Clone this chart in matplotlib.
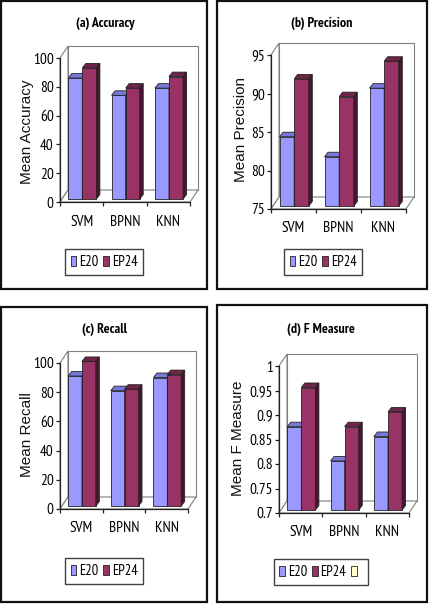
import matplotlib
matplotlib.use('Agg')
import matplotlib.pyplot as plt
from matplotlib import font_manager
from matplotlib.patches import Rectangle, Polygon, Patch

W, H = 429, 609

categories = ['SVM', 'BPNN', 'KNN']
series_names = ['E20', 'EP24']

accuracy_e20 = [84, 72, 77]
accuracy_ep24 = [91, 77, 85]
precision_e20 = [84.0, 81.4, 90.3]
precision_ep24 = [91.5, 89.2, 93.8]
recall_e20 = [89, 79, 88]
recall_ep24 = [99, 80, 90]
fmeasure_e20 = [0.87, 0.80, 0.85]
fmeasure_ep24 = [0.95, 0.87, 0.90]

# pick a condensed face if one is around, the chart text looks like Arial Narrow
installed = {f.name for f in font_manager.fontManager.ttflist}
narrow_name = 'Liberation Sans'
for cand in ['Liberation Sans Narrow', 'Arial Narrow', 'Arimo Narrow', 'PT Sans Narrow',
             'Archivo Narrow', 'Roboto Condensed', 'Open Sans Condensed']:
    if cand in installed:
        narrow_name = cand
        break
narrow = [narrow_name, 'DejaVu Sans']
regular = ['Liberation Sans', 'DejaVu Sans']

# front, top, side colours for each series
colors = {
    'E20': ('#9999ff', '#7878d8', '#5c5cb0'),
    'EP24': ('#993366', '#6e2548', '#4a1530'),
}

fig = plt.figure(figsize=(W / 100, H / 100), dpi=100)
fig.patch.set_facecolor('white')


def px_rect(x0, y0, x1, y1):
    return Rectangle((x0 / W, 1 - y1 / H), (x1 - x0) / W, (y1 - y0) / H,
                     transform=fig.transFigure, fill=False, ec='#111111', lw=1.6)


def draw_panel(box, border, title, title_xy, ylabel, ylabel_xy, e20, ep24,
               ymin, ymax, ticks, ticklabels, legend_xy, extra=False):
    l, r, t, b = box
    fig.add_artist(px_rect(*border))
    ax = fig.add_axes([l / W, 1 - b / H, (r - l) / W, (b - t) / H])
    ax.set_xlim(0, 3)
    ax.set_ylim(ymin, ymax)
    ax.patch.set_alpha(0)
    kx = 3 / (r - l)
    ky = (ymax - ymin) / (b - t)
    wx, wy = 8 * kx, 12 * ky

    # walls and floor
    ax.add_patch(Rectangle((wx, ymin + wy), 3, ymax - ymin, fc='white', ec='#808080',
                           lw=0.8, clip_on=False, zorder=1))
    ax.add_patch(Polygon([(0, ymin), (0, ymax), (wx, ymax + wy), (wx, ymin + wy)],
                         closed=True, fc='white', ec='#808080', lw=0.8, clip_on=False, zorder=1))
    ax.add_patch(Polygon([(0, ymin), (wx, ymin + wy), (3 + wx, ymin + wy), (3, ymin)],
                         closed=True, fc='white', ec='#808080', lw=0.8, clip_on=False, zorder=1))

    # bars
    bw = 0.325
    dx, dy = 3.5 * kx, 4.5 * ky
    base = ymin + 3 * ky
    for s, (name, vals) in enumerate(zip(series_names, [e20, ep24])):
        front, top, side = colors[name]
        for i, v in enumerate(vals):
            x0 = i + 0.19 + s * bw
            h = v - ymin
            ax.bar(x0, h, width=bw, bottom=base, align='edge', color=front,
                   edgecolor='#222222', linewidth=0.6, zorder=3 + i * 2 + s, clip_on=False)
            yt = base + h
            ax.add_patch(Polygon([(x0, yt), (x0 + bw, yt), (x0 + bw + dx, yt + dy), (x0 + dx, yt + dy)],
                                 closed=True, fc=top, ec='#222222', lw=0.6,
                                 zorder=3 + i * 2 + s, clip_on=False))
            ax.add_patch(Polygon([(x0 + bw, base), (x0 + bw, yt), (x0 + bw + dx, yt + dy),
                                  (x0 + bw + dx, base + dy)],
                                 closed=True, fc=side, ec='#222222', lw=0.6,
                                 zorder=3 + i * 2 + s, clip_on=False))

    for sp in ['top', 'right']:
        ax.spines[sp].set_visible(False)
    for sp in ['left', 'bottom']:
        ax.spines[sp].set_color('#222222')
        ax.spines[sp].set_linewidth(0.9)
        ax.spines[sp].set_zorder(2)
    ax.set_yticks(ticks)
    ax.set_yticklabels(ticklabels, fontfamily=narrow, fontsize=11)
    ax.tick_params(axis='y', length=3, width=0.9, pad=1.5, color='#222222')
    ax.set_xticks([0, 1, 2, 3])
    ax.set_xticklabels([])
    ax.tick_params(axis='x', which='major', length=3, width=0.9, color='#222222')
    ax.set_xticks([0.5, 1.5, 2.5], minor=True)
    ax.set_xticklabels(categories, minor=True, fontfamily=narrow, fontsize=11)
    ax.tick_params(axis='x', which='minor', length=0, pad=9)

    ax.set_ylabel(ylabel, fontfamily=regular, fontsize=11, color='#111111')
    ax.yaxis.set_label_coords(ylabel_xy[0] / W, 1 - ylabel_xy[1] / H, transform=fig.transFigure)

    fig.text(title_xy[0] / W, 1 - title_xy[1] / H, title, ha='center', va='center',
             fontfamily=narrow, fontweight='bold', fontsize=10)

    handles = [Patch(fc=colors[n][0], ec='#222222', lw=0.6, label=n) for n in series_names]
    if extra:
        handles.append(Patch(fc='#ffffcc', ec='#222222', lw=0.6, label=' '))
    leg = ax.legend(handles=handles, loc='center', bbox_to_anchor=(legend_xy[0] / W, 1 - legend_xy[1] / H),
                    bbox_transform=fig.transFigure, ncol=len(handles), frameon=True, fancybox=False,
                    handlelength=0.4, handleheight=0.65, handletextpad=0.2, columnspacing=0.3,
                    borderpad=0.4, prop={'family': narrow, 'size': 10.5})
    leg.get_frame().set_edgecolor('#111111')
    leg.get_frame().set_linewidth(1.0)


draw_panel((60, 190, 58, 202), (1, 1, 207, 289), '(a) Accuracy', (105, 23),
           'Mean Accuracy', (34, 132), accuracy_e20, accuracy_ep24,
           0, 100, [0, 20, 40, 60, 80, 100], ['0', '20', '40', '60', '80', '100'], (104, 262))
draw_panel((271, 406, 55, 209), (217, 1, 427, 289), '(b) Precision', (322, 23),
           'Mean Precision', (248, 129), precision_e20, precision_ep24,
           75, 95, [75, 80, 85, 90, 95], ['75', '80', '85', '90', '95'], (323, 262))
draw_panel((60, 188, 363, 509), (1, 307, 207, 602), '(c) Recall', (105, 330),
           'Mean Recall', (34, 435), recall_e20, recall_ep24,
           0, 100, [0, 20, 40, 60, 80, 100], ['0', '20', '40', '60', '80', '100'], (104, 571))
draw_panel((279, 409, 366, 513), (217, 305, 427, 602), '(d) F Measure', (321, 330),
           'Mean F Measure', (245, 438), fmeasure_e20, fmeasure_ep24,
           0.7, 1.0, [0.7, 0.75, 0.8, 0.85, 0.9, 0.95, 1.0],
           ['0.7', '0.75', '0.8', '0.85', '0.9', '0.95', '1'], (321, 572), extra=True)

fig.savefig('out.png', dpi=100)
